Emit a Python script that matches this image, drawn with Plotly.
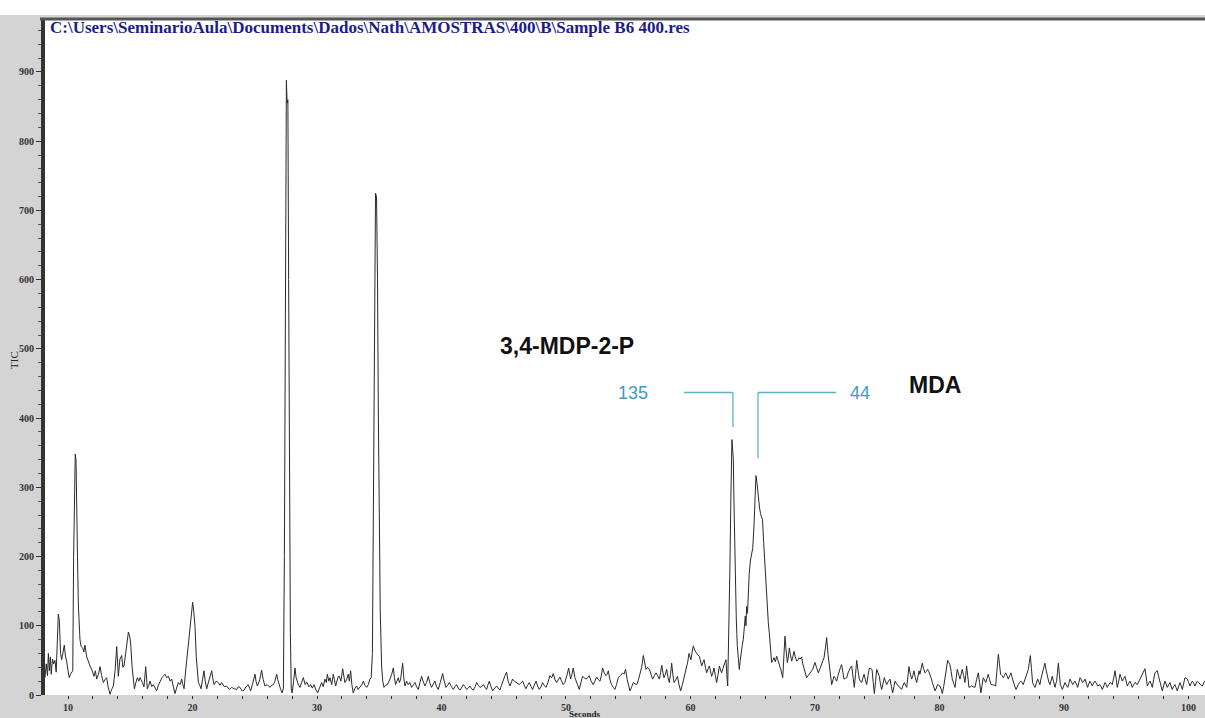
import plotly.graph_objects as go

TITLE = "C:\\Users\\SeminarioAula\\Documents\\Dados\\Nath\\AMOSTRAS\\400\\B\\Sample B6 400.res"

# (seconds, TIC) pairs, split by region
seg_start = [
    (8.15, 25), (8.25, 45), (8.35, 28), (8.42, 60), (8.5, 35), (8.58, 55), (8.65, 30), (8.75, 52),
    (8.85, 45), (8.95, 50), (9.05, 33), (9.15, 95), (9.22, 117), (9.3, 108), (9.4, 60), (9.49, 51),
    (9.6, 65), (9.7, 72), (9.8, 55), (9.89, 49), (10.0, 35), (10.1, 25), (10.2, 30), (10.29, 32),
    (10.38, 35), (10.45, 200), (10.52, 330), (10.58, 348), (10.64, 340), (10.7, 290), (10.76, 200),
    (10.83, 130), (10.9, 90), (10.96, 80), (11.05, 70), (11.18, 68), (11.27, 62), (11.36, 72),
    (11.5, 55), (11.63, 47), (11.77, 42), (11.9, 37), (12.0, 30), (12.09, 27), (12.2, 35), (12.3, 23),
    (12.45, 30), (12.57, 41), (12.7, 28), (12.84, 18), (12.95, 22), (13.1, 25), (13.22, 12), (13.37, 1),
    (13.5, 8), (13.64, 13), (13.78, 35), (13.91, 70), (14.04, 27), (14.17, 52), (14.31, 57), (14.4, 40),
    (14.5, 42), (14.62, 60), (14.75, 85), (14.85, 91), (14.95, 85), (15.03, 75), (15.15, 40), (15.33, 9),
    (15.45, 18), (15.57, 25), (15.68, 20), (15.78, 25), (15.97, 18), (16.1, 12), (16.24, 41), (16.37, 9),
    (16.48, 14), (16.59, 20), (16.72, 12), (16.85, 15), (17.0, 10), (17.12, 6), (17.25, 14), (17.39, 20),
    (17.55, 25), (17.68, 28), (17.79, 30), (17.92, 25), (18.06, 27), (18.2, 20), (18.33, 23), (18.46, 12),
    (18.59, 2), (18.72, 10), (18.86, 18), (19.0, 15), (19.13, 23), (19.22, 15), (19.32, 9), (19.42, 30),
    (19.53, 51), (19.65, 70), (19.8, 95), (19.92, 120), (20.01, 134), (20.1, 120), (20.2, 99), (20.3, 55),
    (20.38, 30), (20.47, 18), (20.58, 14), (20.68, 9), (20.8, 22), (20.92, 35), (21.02, 20), (21.14, 9),
    (21.3, 20), (21.42, 30), (21.54, 35), (21.62, 25), (21.73, 15), (21.9, 20), (22.07, 18), (22.2, 14),
    (22.34, 18), (22.55, 12), (22.74, 13), (22.95, 8), (23.14, 11), (23.35, 9), (23.55, 8), (23.68, 12),
    (23.81, 11), (23.98, 6), (24.14, 7), (24.3, 12), (24.48, 15), (24.58, 10), (24.67, 6), (24.85, 18),
    (25.02, 30), (25.1, 20), (25.21, 13), (25.4, 22), (25.55, 36), (25.68, 22), (25.82, 13), (26.0, 15),
    (26.22, 11), (26.35, 14), (26.49, 15), (26.62, 20), (26.76, 30), (26.85, 22), (26.97, 13), (27.08, 8),
    (27.2, 3),
]

seg_peaks_27_35 = [
    (27.3, 10), (27.38, 200), (27.46, 600), (27.54, 888), (27.6, 855), (27.66, 860), (27.72, 600),
    (27.79, 300), (27.86, 90), (27.93, 10), (28.0, 3), (28.12, 20), (28.23, 39), (28.32, 25), (28.42, 18),
    (28.52, 14), (28.63, 11), (28.78, 20), (28.9, 25), (29.05, 15), (29.17, 19), (29.35, 12), (29.49, 15),
    (29.62, 10), (29.76, 15), (29.9, 8), (30.05, 3), (30.2, 10), (30.37, 18), (30.5, 12), (30.64, 23),
    (30.75, 18), (30.83, 30), (30.95, 20), (31.04, 25), (31.18, 15), (31.31, 30), (31.4, 22), (31.5, 13),
    (31.6, 20), (31.71, 27), (31.79, 27), (31.92, 20), (32.06, 38), (32.15, 25), (32.24, 18), (32.38, 22),
    (32.51, 30), (32.6, 20), (32.7, 35), (32.8, 15), (32.91, 3), (33.05, 10), (33.18, 13), (33.3, 8),
    (33.45, 11), (33.6, 15), (33.72, 20), (33.85, 14), (33.99, 11), (34.12, 15), (34.25, 23), (34.35, 25),
    (34.45, 60), (34.53, 250), (34.62, 550), (34.7, 725), (34.78, 720), (34.86, 600), (34.93, 400),
    (35.0, 250), (35.08, 120), (35.19, 42), (35.28, 20),
]

seg_mid = [
    (35.38, 11), (35.5, 14), (35.65, 15), (35.75, 18), (35.86, 23), (36.0, 30), (36.13, 39), (36.22, 25),
    (36.31, 15), (36.42, 20), (36.53, 25), (36.62, 18), (36.72, 23), (36.8, 35), (36.88, 46), (36.97, 25),
    (37.06, 13), (37.2, 20), (37.33, 15), (37.45, 18), (37.6, 11), (37.75, 15), (37.87, 18), (38.0, 12),
    (38.13, 8), (38.27, 18), (38.4, 27), (38.52, 20), (38.67, 13), (38.8, 18), (38.94, 27), (39.05, 18),
    (39.2, 11), (39.35, 16), (39.47, 20), (39.6, 12), (39.74, 8), (39.9, 18), (40.09, 31), (40.22, 20),
    (40.36, 11), (40.5, 14), (40.63, 18), (40.8, 12), (40.95, 8), (41.08, 12), (41.21, 15), (41.35, 10),
    (41.48, 7), (41.6, 10), (41.75, 15), (41.88, 12), (42.02, 8), (42.15, 10), (42.28, 13), (42.42, 9),
    (42.55, 7), (42.7, 12), (42.82, 18), (42.95, 14), (43.09, 11), (43.22, 12), (43.36, 15), (43.5, 11),
    (43.62, 8), (43.72, 14), (43.84, 20), (43.98, 12), (44.11, 6), (44.28, 10), (44.43, 13), (44.55, 10),
    (44.69, 7), (44.82, 14), (44.96, 23), (45.1, 28), (45.23, 33), (45.35, 20), (45.5, 13), (45.6, 18),
    (45.71, 23), (45.85, 20), (45.98, 18), (46.1, 16), (46.25, 15), (46.4, 18), (46.52, 20), (46.65, 14),
    (46.78, 9), (46.92, 14), (47.05, 18), (47.2, 12), (47.32, 8), (47.45, 14), (47.59, 20), (47.72, 13),
    (47.85, 8), (48.0, 12), (48.12, 18), (48.25, 14), (48.39, 11), (48.55, 18), (48.71, 28), (48.85, 25),
    (48.98, 31), (49.12, 22), (49.25, 18), (49.38, 22), (49.51, 26), (49.65, 20), (49.78, 15), (49.9, 18),
    (50.0, 23), (50.1, 30), (50.21, 39), (50.3, 28), (50.37, 23), (50.48, 30), (50.58, 39), (50.72, 25),
    (50.85, 18), (50.97, 12), (51.07, 8), (51.2, 18), (51.33, 27), (51.47, 25), (51.6, 23), (51.75, 25),
    (51.87, 28), (52.02, 20), (52.19, 15), (52.32, 20), (52.46, 26), (52.6, 22), (52.73, 20), (52.84, 28),
    (52.94, 39), (53.08, 32), (53.21, 28), (53.3, 30), (53.4, 35), (53.53, 22), (53.66, 15), (53.8, 11),
    (53.93, 8), (54.06, 15), (54.2, 25), (54.38, 28), (54.55, 32), (54.66, 30), (54.79, 37), (54.92, 22),
    (55.06, 11), (55.14, 6), (55.28, 12), (55.41, 18), (55.55, 16), (55.68, 15), (55.82, 22), (55.95, 32),
    (56.08, 40), (56.21, 57), (56.32, 45), (56.43, 37), (56.56, 40), (56.7, 37), (56.83, 30), (56.96, 23),
    (57.1, 28), (57.23, 32), (57.36, 28), (57.5, 23), (57.6, 32), (57.69, 43), (57.78, 33), (57.87, 25),
    (57.98, 30), (58.09, 37), (58.2, 25), (58.3, 18), (58.4, 30), (58.49, 46), (58.58, 30), (58.68, 18),
    (58.82, 22), (58.95, 27), (59.08, 15), (59.21, 6), (59.35, 15), (59.48, 25), (59.58, 30), (59.69, 37),
    (59.78, 48), (59.88, 60), (59.96, 55), (60.04, 51), (60.13, 62), (60.23, 71), (60.33, 65), (60.44, 61),
    (60.58, 58), (60.71, 56), (60.8, 48), (60.9, 42), (61.0, 47), (61.09, 51), (61.2, 40), (61.3, 32),
    (61.42, 38), (61.52, 42), (61.6, 35), (61.7, 27), (61.8, 32), (61.89, 39), (62.0, 28), (62.1, 18),
    (62.22, 30), (62.32, 42), (62.42, 36), (62.5, 32), (62.6, 38), (62.69, 42), (62.78, 46), (62.85, 51),
    (62.92, 30), (62.99, 13),
]

seg_mdp_mda = [
    (63.03, 51), (63.1, 110), (63.17, 186), (63.25, 290), (63.33, 369), (63.38, 355), (63.44, 342),
    (63.49, 282), (63.55, 220), (63.6, 162), (63.68, 110), (63.76, 71), (63.84, 50), (63.92, 37),
    (64.0, 50), (64.08, 66), (64.16, 72), (64.24, 80), (64.32, 95), (64.4, 114), (64.46, 100),
    (64.51, 128), (64.58, 118), (64.65, 150), (64.72, 176), (64.82, 195), (64.91, 205), (65.0, 212),
    (65.1, 244), (65.18, 285), (65.26, 317), (65.35, 305), (65.44, 287), (65.55, 270), (65.63, 262),
    (65.71, 258), (65.79, 253), (65.88, 220), (65.98, 186), (66.08, 155), (66.17, 128), (66.25, 105),
    (66.33, 90), (66.42, 70), (66.52, 47),
]

seg_late = [
    (66.62, 50), (66.71, 54), (66.82, 48), (66.92, 56), (67.03, 50), (67.14, 44), (67.28, 35), (67.41, 25),
    (67.5, 55), (67.59, 85), (67.68, 65), (67.78, 47), (67.86, 55), (67.94, 68), (68.03, 58), (68.13, 49),
    (68.22, 55), (68.32, 63), (68.42, 55), (68.53, 49), (68.62, 50), (68.72, 54), (68.82, 52), (68.93, 55),
    (69.02, 45), (69.12, 37), (69.22, 30), (69.33, 25), (69.45, 28), (69.55, 30), (69.7, 34), (69.82, 37),
    (69.9, 42), (70.0, 47), (70.12, 40), (70.27, 32), (70.4, 38), (70.54, 44), (70.63, 50), (70.73, 54),
    (70.84, 68), (70.94, 83), (71.04, 60), (71.15, 42), (71.25, 25), (71.34, 15), (71.45, 22), (71.53, 27),
    (71.64, 24), (71.74, 20), (71.85, 28), (71.96, 37), (72.05, 40), (72.14, 44), (72.24, 32), (72.33, 23),
    (72.45, 24), (72.55, 25), (72.66, 32), (72.76, 37), (72.86, 40), (72.95, 42), (73.05, 25), (73.16, 11),
    (73.26, 30), (73.35, 50), (73.46, 35), (73.56, 23), (73.65, 20), (73.75, 18), (73.84, 24), (73.94, 30),
    (74.05, 22), (74.15, 15), (74.26, 28), (74.37, 39), (74.48, 38), (74.58, 37), (74.68, 18), (74.77, 2),
    (74.87, 20), (74.96, 37), (75.06, 32), (75.17, 27), (75.26, 16), (75.36, 8), (75.46, 16), (75.57, 25),
    (75.66, 20), (75.76, 15), (75.9, 20), (76.03, 23), (76.14, 12), (76.24, 3), (76.34, 12), (76.43, 20),
    (76.56, 16), (76.7, 13), (76.82, 10), (76.96, 8), (77.08, 14), (77.18, 18), (77.28, 14), (77.37, 11),
    (77.46, 26), (77.55, 41), (77.66, 30), (77.77, 23), (77.86, 28), (77.95, 35), (78.06, 25), (78.17, 18),
    (78.26, 26), (78.36, 35), (78.43, 30), (78.52, 38), (78.62, 46), (78.72, 38), (78.84, 32), (78.94, 34),
    (79.05, 37), (79.14, 34), (79.24, 30), (79.34, 24), (79.43, 18), (79.54, 12), (79.64, 6), (79.75, 10),
    (79.85, 15), (79.95, 14), (80.04, 13), (80.14, 8), (80.23, 2), (80.34, 12), (80.44, 23), (80.55, 36),
    (80.66, 50), (80.75, 47), (80.84, 44), (80.94, 34), (81.03, 23), (81.14, 17), (81.25, 11), (81.34, 24),
    (81.43, 37), (81.54, 30), (81.65, 23), (81.74, 30), (81.83, 37), (81.94, 28), (82.05, 18), (82.12, 30),
    (82.18, 42), (82.28, 26), (82.37, 11), (82.48, 12), (82.58, 13), (82.72, 12), (82.85, 11), (82.98, 22),
    (83.12, 32), (83.22, 18), (83.33, 3), (83.42, 14), (83.52, 25), (83.62, 22), (83.71, 18), (83.82, 24),
    (83.92, 30), (84.03, 22), (84.14, 15), (84.24, 15), (84.33, 15), (84.42, 14), (84.51, 13), (84.62, 36),
    (84.73, 59), (84.82, 45), (84.91, 30), (85.02, 28), (85.13, 25), (85.22, 28), (85.31, 32), (85.42, 28),
    (85.53, 23), (85.64, 28), (85.74, 32), (85.84, 25), (85.93, 18), (86.04, 13), (86.15, 8), (86.24, 12),
    (86.33, 15), (86.44, 18), (86.55, 20), (86.64, 18), (86.73, 15), (86.82, 20), (86.92, 25), (87.03, 31),
    (87.14, 37), (87.22, 47), (87.3, 57), (87.39, 38), (87.48, 18), (87.58, 14), (87.67, 11), (87.78, 17),
    (87.89, 23), (87.98, 19), (88.07, 15), (88.16, 24), (88.26, 32), (88.36, 39), (88.47, 46), (88.58, 35),
    (88.69, 23), (88.78, 19), (88.88, 15), (88.97, 21), (89.06, 27), (89.17, 19), (89.28, 11), (89.34, 16),
    (89.41, 20), (89.48, 33), (89.55, 46), (89.63, 30), (89.71, 15), (89.79, 12), (89.87, 8), (89.98, 13),
    (90.08, 18), (90.2, 14), (90.3, 11), (90.4, 17), (90.48, 23), (90.6, 19), (90.7, 15), (90.8, 18),
    (90.88, 20), (91.0, 16), (91.1, 11), (91.2, 18), (91.29, 25), (91.4, 22), (91.5, 18), (91.6, 20),
    (91.69, 23), (91.8, 17), (91.9, 11), (92.0, 16), (92.09, 20), (92.18, 17), (92.28, 13), (92.38, 17),
    (92.49, 20), (92.6, 17), (92.71, 13), (92.8, 14), (92.89, 15), (92.98, 12), (93.08, 8), (93.2, 13),
    (93.3, 18), (93.4, 15), (93.48, 11), (93.6, 15), (93.7, 18), (93.8, 17), (93.88, 15), (94.0, 25),
    (94.1, 35), (94.2, 23), (94.28, 11), (94.4, 20), (94.5, 30), (94.6, 25), (94.69, 20), (94.8, 24),
    (94.9, 27), (95.0, 20), (95.09, 13), (95.2, 17), (95.3, 20), (95.4, 16), (95.49, 11), (95.6, 15),
    (95.7, 18), (95.8, 17), (95.89, 15), (96.0, 19), (96.1, 23), (96.2, 27), (96.29, 30), (96.4, 34),
    (96.51, 38), (96.6, 26), (96.7, 13), (96.8, 17), (96.91, 20), (97.0, 16), (97.1, 11), (97.2, 22),
    (97.31, 32), (97.4, 34), (97.5, 35), (97.6, 27), (97.71, 18), (97.8, 12), (97.9, 6), (98.0, 13),
    (98.11, 20), (98.2, 16), (98.3, 11), (98.42, 15), (98.52, 18), (98.6, 13), (98.7, 8), (98.8, 12),
    (98.92, 15), (99.0, 11), (99.1, 6), (99.2, 12), (99.32, 18), (99.42, 13), (99.51, 8), (99.62, 17),
    (99.72, 25), (99.82, 24), (99.91, 23), (100.02, 18), (100.12, 13), (100.22, 17), (100.31, 20),
    (100.42, 17), (100.52, 13), (100.62, 17), (100.71, 20), (100.82, 18), (100.93, 15), (101.02, 14),
    (101.11, 13), (101.2, 17), (101.3, 20),
]

x_ticks = [10, 20, 30, 40, 50, 60, 70, 80, 90, 100]
y_ticks = [0, 100, 200, 300, 400, 500, 600, 700, 800, 900]

# peak labels: (text, seconds, TIC)
compound_labels = [("3,4-MDP-2-P", 50.08, 504), ("MDA", 79.64, 448)]
ion_labels = [("135", 55.4, 437), ("44", 73.61, 437)]
# bracket lines: horizontal start/end seconds, vertical seconds, level and lower end (TIC)
ion_brackets = [(59.48, 63.41, 63.41, 437, 387), (71.7, 65.42, 65.42, 437, 342)]

points = seg_start + seg_peaks_27_35 + seg_mid + seg_mdp_mda + seg_late
seconds = [p[0] for p in points]
tic = [p[1] for p in points]

PW, PH = 1160, 677
ML, MT, MB = 45, 18, 23
GRAY = "#d4d4d4"

fig = go.Figure()
fig.add_trace(go.Scatter(x=seconds, y=tic, mode="lines",
                         line=dict(color="#2a2a2a", width=1), hoverinfo="skip", showlegend=False))

shapes = [
    dict(type="rect", xref="paper", yref="paper", x0=-ML / PW, x1=0, y0=-MB / PH, y1=1 + 3 / PH,
         fillcolor=GRAY, line=dict(width=0), layer="below"),
    dict(type="rect", xref="paper", yref="paper", x0=-ML / PW, x1=1.01, y0=-MB / PH, y1=0,
         fillcolor=GRAY, line=dict(width=0), layer="below"),
    dict(type="rect", xref="paper", yref="paper", x0=-ML / PW, x1=1.01, y0=1, y1=1 + 3 / PH,
         fillcolor=GRAY, line=dict(width=0), layer="below"),
    dict(type="line", xref="paper", yref="paper", x0=-5 / PW, x1=1.01, y0=1 - 1 / PH, y1=1 - 1 / PH,
         line=dict(color="#555555", width=3)),
]
for hx, vx, _, level, low in ion_brackets:
    shapes.append(dict(type="line", xref="x", yref="y", x0=hx, x1=vx, y0=level, y1=level,
                       line=dict(color="#5fb0cc", width=1.3)))
    shapes.append(dict(type="line", xref="x", yref="y", x0=vx, x1=vx, y0=level, y1=low,
                       line=dict(color="#5fb0cc", width=1.3)))

annotations = [
    dict(text=TITLE, xref="paper", yref="paper", x=3 / PW, y=1 - 9 / PH, xanchor="left", yanchor="middle",
         showarrow=False, font=dict(family="Liberation Serif", size=17, color="#1c1c8a", weight="bold")),
    dict(text="TIC", xref="paper", yref="paper", x=-31 / PW, y=0.495, textangle=-90, showarrow=False,
         xanchor="center", yanchor="middle", font=dict(family="Liberation Serif", size=11, color="#222222")),
    dict(text="Seconds", xref="paper", yref="paper", x=0.4655, y=-19 / PH, showarrow=False,
         xanchor="center", yanchor="middle",
         font=dict(family="Liberation Serif", size=9, color="#222222", weight="bold")),
]
for txt, sx, val in compound_labels:
    annotations.append(dict(text=txt, x=sx, y=val, xref="x", yref="y", showarrow=False,
                            font=dict(family="Liberation Sans", size=23, color="#111111", weight="bold")))
for txt, sx, val in ion_labels:
    annotations.append(dict(text=txt, x=sx, y=val, xref="x", yref="y", showarrow=False,
                            font=dict(family="Liberation Sans", size=18, color="#3d9cc6")))

fig.update_layout(
    width=1205, height=718,
    margin=dict(l=ML, r=0, t=MT, b=MB, autoexpand=False),
    paper_bgcolor="white", plot_bgcolor="white",
    shapes=shapes, annotations=annotations, showlegend=False,
    xaxis=dict(range=[8.15, 101.33], tickvals=x_ticks, ticktext=[str(v) for v in x_ticks],
               ticks="outside", ticklen=3, tickwidth=1, tickcolor="#333333",
               minor=dict(dtick=2, tick0=0, ticks="outside", ticklen=3, tickcolor="#333333"),
               showgrid=False, zeroline=False, showline=False,
               tickfont=dict(family="Liberation Serif", size=10, color="#333333", weight="bold")),
    yaxis=dict(range=[0, 978], tickvals=y_ticks, ticktext=[str(v) for v in y_ticks],
               ticks="outside", ticklen=5, tickwidth=1, tickcolor="#333333",
               minor=dict(dtick=20, tick0=0, ticks="outside", ticklen=3, tickcolor="#555555"),
               showgrid=False, zeroline=False, showline=True, linecolor="#333333", linewidth=4,
               tickfont=dict(family="Liberation Serif", size=10, color="#333333", weight="bold")),
)

fig.write_html("out.html")
